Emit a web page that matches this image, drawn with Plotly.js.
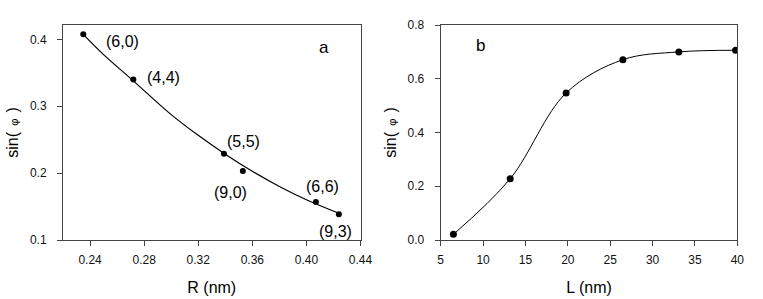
<!DOCTYPE html>
<html>
<head>
<meta charset="utf-8">
<script src="https://cdn.plot.ly/plotly-3.0.1.min.js"></script>
<style>html,body{margin:0;padding:0;background:#fff}#chart{width:763px;height:299px}</style>
</head>
<body>
<div id="chart"></div>
<script>
// Panel a: sin(phi) vs tube radius R (nm)
const tubeLabels = ["(6,0)", "(4,4)", "(5,5)", "(9,0)", "(6,6)", "(9,3)"];
const radiusR = [0.235, 0.272, 0.339, 0.353, 0.407, 0.424];
const sinPhiA = [0.4075, 0.340, 0.229, 0.203, 0.157, 0.1386];
// fitted curve of panel a
const fitR = [0.235, 0.25, 0.272, 0.30, 0.32, 0.34, 0.36, 0.38, 0.40, 0.424];
const fitSinA = [0.4075, 0.3772, 0.338, 0.2875, 0.2565, 0.2283, 0.2027, 0.1801, 0.1602, 0.140];
// label anchor positions (data units)
const labelR = [0.2642, 0.2943, 0.3536, 0.3439, 0.4119, 0.4217];
const labelSin = [0.3974, 0.3425, 0.2474, 0.171, 0.180, 0.1125];

// Panel b: sin(phi) vs length L (nm)
const lengthL = [6.5, 13.2, 19.8, 26.5, 33.1, 39.8];
const sinPhiB = [0.021, 0.228, 0.547, 0.671, 0.700, 0.706];

const tickXA = [0.24, 0.28, 0.32, 0.36, 0.40, 0.44];
const tickYA = [0.1, 0.2, 0.3, 0.4];
const tickXB = [5, 10, 15, 20, 25, 30, 35, 40];
const tickYB = [0.0, 0.2, 0.4, 0.6, 0.8];

const FONT = "Liberation Sans, Arial, sans-serif";
const axisCommon = {
  showgrid: false, zeroline: false, showline: true, mirror: true,
  linecolor: "#444", linewidth: 1, ticks: "outside", ticklen: 5,
  tickcolor: "#444", tickwidth: 1,
  tickfont: {family: FONT, size: 12, color: "#111"},
  automargin: false
};
const yTitle = '\u00a0\u00a0\u00a0sin(<span style="font-size:11px">\u00a0\u00a0φ\u00a0\u00a0</span>)';

const traces = [
  {x: fitR, y: fitSinA, type: "scatter", mode: "lines", line: {color: "#000", width: 1.2, shape: "spline"}, xaxis: "x", yaxis: "y", hoverinfo: "skip"},
  {x: radiusR, y: sinPhiA, type: "scatter", mode: "markers", marker: {color: "#000", size: 6}, xaxis: "x", yaxis: "y"},
  {x: lengthL, y: sinPhiB, type: "scatter", mode: "lines+markers", line: {color: "#000", width: 1, shape: "spline", smoothing: 1},
   marker: {color: "#000", size: 7}, xaxis: "x2", yaxis: "y2"}
];

const annotations = tubeLabels.map((t, i) => ({
  x: labelR[i], y: labelSin[i], xref: "x", yref: "y", text: t, showarrow: false,
  font: {family: FONT, size: 16, color: "#000"}
}));
annotations.push({x: 0.4128, y: 0.3875, xref: "x", yref: "y", text: "a", showarrow: false, font: {family: FONT, size: 17, color: "#000"}});
annotations.push({x: 9.64, y: 0.7256, xref: "x2", yref: "y2", text: "b", showarrow: false, font: {family: FONT, size: 17, color: "#000"}});

const layout = {
  width: 763, height: 299,
  margin: {l: 0, r: 0, t: 25, b: 59},
  paper_bgcolor: "#fff", plot_bgcolor: "#fff",
  showlegend: false,
  font: {family: FONT, color: "#000"},
  xaxis: Object.assign({}, axisCommon, {
    domain: [63/763, 360.5/763], range: [0.22, 0.44], tickvals: tickXA, tickformat: ".2f", ticklabelstandoff: 4,
    title: {text: "R (nm)", font: {family: FONT, size: 16}, standoff: 15}
  }),
  yaxis: Object.assign({}, axisCommon, {
    domain: [0, 1], range: [0.1, 0.4215], tickvals: tickYA, tickformat: ".1f", anchor: "x", ticklabelstandoff: 8,
    title: {text: yTitle, font: {family: FONT, size: 16}, standoff: 7}
  }),
  xaxis2: Object.assign({}, axisCommon, {
    domain: [440.7/763, 737.3/763], range: [5, 40], tickvals: tickXB, anchor: "y2", ticklabelstandoff: 4,
    title: {text: "L (nm)", font: {family: FONT, size: 16}, standoff: 15}
  }),
  yaxis2: Object.assign({}, axisCommon, {
    domain: [0, 1], range: [0, 0.8], tickvals: tickYB, tickformat: ".1f", anchor: "x2", ticklabelstandoff: 8,
    title: {text: yTitle, font: {family: FONT, size: 16}, standoff: 7}
  }),
  annotations: annotations
};

Plotly.newPlot("chart", traces, layout, {displayModeBar: false, staticPlot: true});
</script>
</body>
</html>
